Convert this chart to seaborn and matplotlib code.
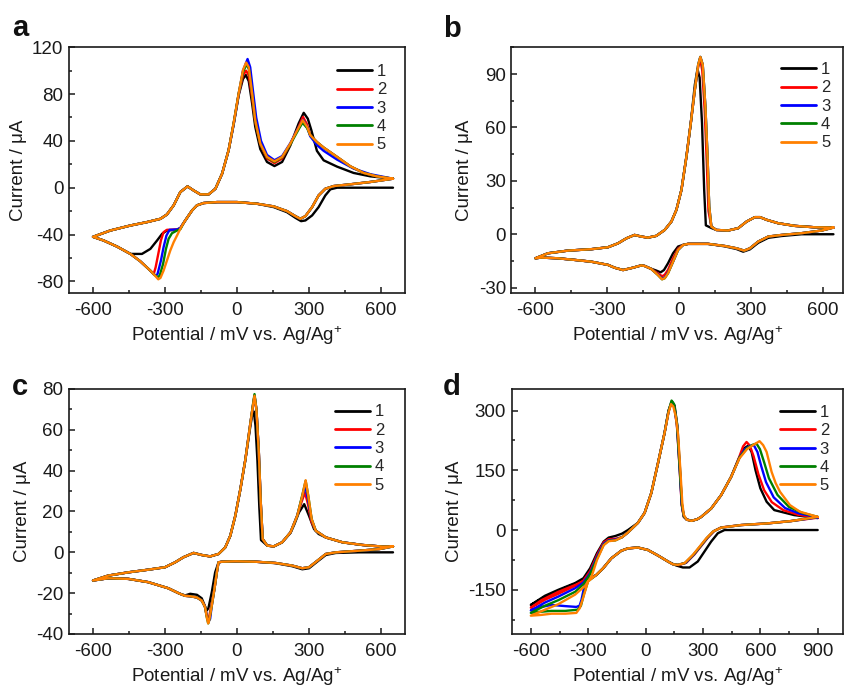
import matplotlib
matplotlib.use("Agg")
import matplotlib.pyplot as plt
import pandas as pd
import seaborn as sns
from matplotlib.ticker import MultipleLocator

# ---------------------------------------------------------------------------
# Cyclic voltammograms, five consecutive cycles per electrolyte.
# Each branch is stored for cycle 5; cycles 1-4 list only the stretches
# where their trace departs from it, as (potential mV, current uA) pairs.
# ---------------------------------------------------------------------------
CYCLES = ["1", "2", "3", "4", "5"]
CYCLE_COLORS = ["#000000", "#FF0000", "#0000FF", "#008000", "#FF8000"]

# ----- panel a --------------------------------------------------------------
A_AN_MV = [-600, -528, -444, -375, -319, -292, -264, -236, -206, -181,
           -153, -118, -90, -62, -35, -14, 7, 25, 38, 49,
           63, 76, 97, 125, 156, 188, 222, 257, 274, 292,
           305, 333, 361, 417, 472, 528, 583, 650]
A_AN_UA = [-42.0, -36.6, -32.3, -29.4, -26.6, -22.9, -15.1, -3.7, 1.1, -2.3,
           -5.7, -5.7, -0.9, 12.0, 32.0, 54.9, 80.6, 100.6, 107.0, 103.0,
           80.6, 57.7, 37.7, 26.3, 22.5, 26.3, 37.7, 51.4, 57.7, 52.0,
           45.0, 39.0, 34.3, 26.3, 18.3, 12.6, 9.7, 7.7]
A_CA_MV = [650, 556, 472, 403, 368, 340, 313, 285, 264, 243,
           208, 153, 83, 0, -83, -139, -167, -187, -208, -222,
           -236, -250, -264, -278, -292, -306, -319, -328, -340, -361,
           -403, -444, -500, -556, -600]
A_CA_UA = [7.7, 4.9, 2.9, 1.4, -0.9, -6.6, -16.6, -24.3, -26.6, -24.3,
           -20.0, -16.0, -13.7, -12.3, -12.3, -13.1, -15.1, -19.4, -25.7, -30.0,
           -35.0, -40.9, -46.6, -53.7, -62.3, -70.9, -77.1, -78.3, -75.5, -70.9,
           -62.9, -56.6, -50.3, -45.1, -42.0]
A_AN_SEG = {
    1: [[(-14, 54.0), (7, 79.0), (25, 93.0), (37, 96.3), (49, 91.0), (63, 72.0),
         (76, 52.0), (97, 33.0), (125, 22.0), (156, 18.5), (188, 22.0), (222, 36.0),
         (257, 55.0), (278, 64.0), (295, 59.0), (310, 49.0), (333, 31.5), (361, 23.4),
         (417, 18.0), (486, 12.6), (556, 9.7), (650, 7.7)]],
    2: [[(-14, 55.0), (7, 80.0), (25, 96.0), (38, 100.0), (49, 96.0), (63, 77.0),
         (76, 56.0), (97, 37.0), (125, 25.0), (156, 21.0), (188, 25.0), (222, 37.0),
         (257, 52.0), (275, 60.5), (292, 54.0)]],
    3: [[(-14, 54.0), (7, 80.0), (25, 100.0), (44, 110.0), (55, 103.0), (67, 82.0),
         (80, 60.0), (100, 40.0), (125, 28.0), (156, 23.5), (188, 27.0), (222, 38.0),
         (257, 51.5), (275, 58.0), (292, 52.0), (305, 44.0), (333, 36.5), (361, 31.5),
         (417, 24.0), (486, 16.3), (556, 11.5), (650, 7.7)]],
    4: [[(-14, 55.0), (7, 80.6), (25, 99.0), (40, 105.5), (50, 101.0), (63, 80.0),
         (76, 57.0), (97, 37.5), (125, 26.0), (156, 22.0), (188, 26.0), (222, 37.0),
         (257, 50.0), (273, 55.5), (292, 51.0)]],
}
A_CA_SEG = {
    1: [[(650, 0.0), (486, 0.0), (417, 0.0), (389, -1.4), (368, -6.6), (340, -16.6),
         (313, -23.7), (285, -28.0), (267, -28.6), (243, -25.7), (208, -20.9), (153, -16.6)],
        [(-222, -30.0), (-236, -34.5), (-250, -36.0), (-292, -36.6), (-312, -39.4),
         (-333, -45.1), (-361, -52.3), (-396, -56.6), (-444, -56.6)]],
    2: [[(-222, -30.0), (-236, -34.5), (-250, -35.7), (-292, -36.0), (-306, -38.0),
         (-317, -45.0), (-328, -56.6), (-339, -68.0), (-347, -73.7)]],
    3: [[(-222, -30.0), (-236, -34.5), (-250, -35.7), (-281, -36.0), (-294, -40.9),
         (-306, -50.9), (-317, -62.3), (-331, -73.7), (-337, -75.1), (-347, -73.9)]],
    4: [[(-222, -30.0), (-236, -35.5), (-250, -36.6), (-271, -38.9), (-285, -43.7),
         (-296, -52.3), (-308, -65.1), (-322, -75.1), (-331, -76.6), (-347, -74.0)]],
}

# ----- panel b --------------------------------------------------------------
B_AN_MV = [-600, -548, -465, -367, -297, -255, -220, -186, -158, -130,
           -95, -60, -32, -11, 10, 31, 49, 66, 80, 89,
           99, 110, 119, 126, 135, 156, 205, 247, 282, 317,
           338, 366, 414, 484, 568, 645]
B_AN_UA = [-13.5, -10.7, -9.2, -8.4, -7.3, -5.1, -2.3, -0.4, -1.3, -1.9,
           -0.9, 2.4, 7.1, 13.7, 24.9, 43.7, 62.4, 81.2, 95.2, 99.6,
           95.2, 71.8, 43.7, 15.6, 4.3, 2.4, 2.1, 3.4, 7.1, 9.6,
           9.6, 8.1, 6.2, 4.7, 3.9, 3.75]
B_CA_MV = [645, 596, 512, 428, 373, 331, 296, 272, 240, 191,
           121, 38, 17, -4, -25, -46, -60, -71, -88, -116,
           -144, -158, -193, -234, -269, -297, -367, -437, -507, -576,
           -600]
B_CA_UA = [3.75, 2.1, 0.6, -0.4, -1.3, -4.1, -7.9, -9.2, -7.9, -6.6,
           -5.4, -5.4, -6.0, -8.8, -15.4, -21.9, -24.7, -25.3, -22.9, -19.5,
           -17.8, -17.5, -18.8, -20.1, -18.8, -17.2, -15.4, -14.4, -13.5, -13.1,
           -13.5]
B_AN_SEG = {
    1: [[(49, 62.4), (66, 84.0), (77, 92.8), (86, 88.0), (96, 62.4), (105, 24.9),
         (112, 5.0), (135, 3.5)]],
    2: [[(80, 94.0), (88, 98.5), (97, 92.0), (107, 70.0), (116, 40.0), (123, 13.0),
         (135, 4.3)]],
}
B_CA_SEG = {
    1: [[(645, 0.0), (512, 0.0), (428, -1.0), (373, -2.0), (331, -4.8), (296, -8.5),
         (268, -9.8), (240, -8.3), (191, -6.8)],
        [(17, -6.0), (-4, -6.9), (-25, -10.7), (-46, -16.3), (-63, -20.1), (-77, -21.4),
         (-95, -20.4), (-116, -19.4)]],
    2: [[(-4, -8.0), (-25, -13.5), (-46, -20.0), (-60, -22.8), (-71, -23.6), (-88, -22.0),
         (-116, -19.5)]],
    3: [[(-46, -21.5), (-60, -24.3), (-71, -24.9), (-88, -22.7)]],
}

# ----- panel c --------------------------------------------------------------
C_AN_MV = [-600, -537, -453, -370, -300, -258, -223, -181, -147, -112,
           -77, -49, -28, -7, 14, 35, 56, 66, 73, 81,
           91, 99, 107, 126, 153, 188, 223, 251, 272, 286,
           297, 311, 328, 370, 440, 523, 607, 650]
C_AN_UA = [-13.8, -11.4, -9.8, -8.5, -7.3, -4.9, -2.4, -0.3, -1.3, -2.0,
           -0.8, 2.4, 8.1, 17.9, 30.9, 45.5, 63.4, 71.5, 76.7, 69.9,
           48.8, 24.4, 6.5, 3.3, 2.9, 4.9, 9.8, 17.9, 27.6, 35.3,
           27.6, 16.3, 10.6, 7.3, 4.9, 3.6, 2.8, 2.9]
C_CA_MV = [650, 593, 509, 412, 370, 335, 300, 272, 230, 160,
           77, -7, -63, -77, -84, -94, -105, -116, -120, -126,
           -133, -147, -167, -195, -216, -240, -286, -370, -453, -537,
           -600]
C_CA_UA = [2.9, 1.6, 0.8, 0.0, -0.8, -4.1, -7.3, -7.8, -6.5, -5.2,
           -4.6, -4.4, -4.6, -4.9, -9.8, -17.9, -26.0, -33.3, -34.8, -31.7,
           -26.8, -23.6, -22.1, -21.5, -21.3, -20.2, -17.6, -14.6, -13.0, -12.7,
           -13.8]
C_AN_SEG = {
    1: [[(56, 62.0), (63, 67.0), (70, 69.0), (77, 62.0), (85, 45.0), (93, 22.0),
         (100, 6.0), (126, 3.3)],
        [(223, 9.5), (240, 14.0), (258, 19.5), (280, 23.6), (300, 17.9), (321, 11.4),
         (340, 9.0)]],
    2: [[(251, 18.0), (270, 25.0), (283, 29.3), (295, 24.0), (310, 15.0), (328, 10.6)]],
    3: [[(251, 18.0), (270, 26.5), (284, 32.5), (296, 26.0), (311, 16.0), (328, 10.6)]],
    4: [[(66, 72.0), (73, 77.5), (81, 70.0)],
        [(272, 28.0), (286, 35.0), (297, 27.6)]],
}
C_CA_SEG = {
    1: [[(650, 0.0), (509, 0.0), (412, -0.3), (370, -1.3), (335, -4.5), (300, -7.8),
         (272, -8.3), (230, -6.8), (160, -5.3)],
        [(-63, -4.6), (-77, -4.9), (-91, -9.8), (-105, -19.5), (-119, -27.3),
         (-126, -28.5), (-133, -26.5), (-147, -22.5), (-167, -20.8), (-195, -20.3),
         (-216, -21.1)]],
    2: [[(-105, -25.0), (-116, -31.5), (-121, -33.0), (-127, -30.5), (-135, -26.0)]],
    3: [[(-112, -32.6), (-119, -34.0), (-126, -30.9)]],
}

# ----- panel d --------------------------------------------------------------
D_AN_MV = [-600, -526, -456, -368, -316, -281, -254, -219, -193, -158,
           -123, -92, -40, -5, 30, 65, 99, 120, 133, 145,
           158, 170, 182, 192, 200, 215, 240, 270, 291, 343,
           395, 447, 491, 530, 565, 596, 615, 633, 659, 680,
           703, 755, 807, 900]
D_AN_UA = [-215, -200, -186, -162, -140, -115, -75, -38, -28, -26,
           -18, -6, 18, 43, 93, 168, 243, 295, 316, 310,
           285, 240, 150, 68, 38, 26, 23, 27, 33, 54,
           87.5, 133, 180, 203, 214, 223, 213, 196, 146, 118,
           96, 62.5, 46, 33]
D_CA_MV = [900, 761, 639, 500, 395, 352, 317, 282, 247, 204,
           169, 143, 117, 65, 12, -40, -92, -127, -179, -222,
           -257, -283, -301, -327, -344, -362, -420, -492, -544, -600]
D_CA_UA = [33, 22.5, 16.7, 12.5, 6.0, -4.0, -21.0, -42.0, -62.5, -83.0,
           -87.5, -86.0, -79.0, -64.0, -50.0, -44.0, -46.0, -52.0, -71.0, -96.0,
           -112.5, -122.0, -129.0, -171.0, -196.0, -208.0, -210.0, -210.0, -213.0, -215.0]
D_AN_SEG = {
    1: [[(-600, -188), (-526, -165), (-456, -150), (-368, -133), (-325, -121), (-290, -96),
         (-254, -58), (-219, -29), (-193, -19), (-158, -15), (-123, -9), (-92, 0)],
        [(120, 300), (138, 323), (152, 312), (166, 262), (180, 154), (190, 62.5),
         (200, 33), (215, 27)],
        [(491, 182), (515, 205), (538, 212), (555, 195), (575, 150), (600, 105),
         (633, 71), (673, 50), (777, 37.5), (900, 30)]],
    2: [[(-600, -195), (-526, -175), (-456, -160), (-368, -140), (-325, -127), (-290, -103),
         (-254, -63), (-219, -31), (-193, -23), (-158, -22)],
        [(120, 298), (136, 320), (150, 311), (164, 262), (178, 154), (189, 62), (200, 33)],
        [(491, 185), (510, 210), (528, 221), (545, 212), (565, 185), (590, 140),
         (620, 100), (660, 70), (720, 50), (800, 38), (900, 31)]],
    3: [[(-600, -202), (-526, -182), (-456, -167), (-368, -146), (-325, -132), (-290, -108),
         (-254, -68), (-219, -34), (-193, -26), (-158, -24)],
        [(120, 297), (136, 322), (149, 313), (164, 265), (178, 158), (189, 65), (200, 35)],
        [(491, 182), (520, 203), (545, 211), (566, 213), (585, 196), (605, 160),
         (630, 120), (670, 82), (730, 55), (800, 42), (900, 32)]],
    4: [[(-600, -208), (-526, -190), (-456, -176), (-368, -155), (-325, -136), (-290, -111),
         (-254, -72), (-219, -37), (-193, -27)],
        [(120, 298), (136, 325), (149, 316), (164, 268), (178, 160), (190, 65), (200, 35)],
        [(491, 182), (530, 205), (560, 214), (580, 217), (598, 203), (620, 170),
         (645, 130), (690, 88), (750, 58), (820, 43), (900, 33)]],
}
D_CA_SEG = {
    1: [[(900, 0), (500, 0), (413, 0), (378, -8), (343, -29), (308, -54), (273, -79),
         (230, -94), (195, -94), (160, -89), (117, -79)],
        [(-257, -112.5), (-283, -120), (-320, -127), (-368, -135), (-420, -145),
         (-456, -153), (-526, -168), (-600, -188)]],
    2: [[(900, 31), (761, 22.5), (639, 16.7), (500, 12.5), (395, 6.5), (360, -2),
         (326, -19), (291, -40), (256, -61), (213, -82), (175, -88), (143, -86)],
        [(-283, -121), (-316, -127), (-368, -138), (-456, -155), (-544, -176), (-600, -195)]],
    3: [[(900, 32), (761, 22.5), (639, 16.7), (500, 12.5), (395, 6), (356, -3),
         (322, -20), (287, -41), (252, -62), (208, -83)],
        [(-283, -121), (-300, -127), (-320, -140), (-335, -175), (-345, -190), (-362, -193),
         (-420, -191), (-492, -188), (-544, -193), (-600, -202)]],
    4: [[(900, 33), (761, 22.5), (639, 16.7), (500, 12.5), (395, 6), (354, -3.5),
         (320, -20.5), (285, -41.5), (250, -62), (206, -83)],
        [(-283, -122), (-301, -129), (-322, -160), (-338, -190), (-355, -200), (-420, -203),
         (-492, -203), (-544, -205), (-600, -208)]],
}

X_LABEL = "Potential / mV vs. Ag/Ag$^{+}$"
Y_LABEL = "Current / \u03bcA"


def branch(mv, ua, segments, descending):
    """Cycle-5 branch with the given stretches swapped in, ordered by sweep direction."""
    pts = list(zip(mv, ua))
    for seg in segments:
        lo = min(e for e, _ in seg)
        hi = max(e for e, _ in seg)
        pts = [p for p in pts if not (lo <= p[0] <= hi)] + list(seg)
    return sorted(pts, key=lambda p: p[0], reverse=descending)


def sweep_frame(an_mv, an_ua, ca_mv, ca_ua, an_seg, ca_seg):
    rows = []
    for k, name in enumerate(CYCLES, start=1):
        path = (branch(ca_mv, ca_ua, ca_seg.get(k, []), True)
                + branch(an_mv, an_ua, an_seg.get(k, []), False))
        for step, (e, i) in enumerate(path):
            rows.append({"E": e, "I": i, "cycle": name, "step": step})
    return pd.DataFrame(rows)


sns.set_theme(style="ticks")
plt.rcParams["font.family"] = ["Liberation Sans", "DejaVu Sans"]
plt.rcParams["mathtext.fontset"] = "custom"
plt.rcParams["mathtext.rm"] = "Liberation Sans"
plt.rcParams["mathtext.it"] = "Liberation Sans:italic"
plt.rcParams["mathtext.bf"] = "Liberation Sans:bold"
plt.rcParams["axes.unicode_minus"] = False
plt.rcParams["lines.solid_joinstyle"] = "round"
plt.rcParams["lines.solid_capstyle"] = "round"

W, H = 845, 688
fig = plt.figure(figsize=(W / 100, H / 100), dpi=100)
fig.patch.set_facecolor("white")


def px_axes(left, top, right, bottom):
    return fig.add_axes([left / W, 1 - bottom / H, (right - left) / W, (bottom - top) / H])


panels = [
    dict(tag="a", box=(69, 47.3, 405, 293), letter=(12, 36),
         frame=sweep_frame(A_AN_MV, A_AN_UA, A_CA_MV, A_CA_UA, A_AN_SEG, A_CA_SEG),
         xlim=(-700, 700), ylim=(-90, 120), xmaj=300, xmin=150, ymaj=40, ymin=20,
         leg=(0.797, 0.932)),
    dict(tag="b", box=(511.5, 47.3, 843, 293), letter=(443, 37),
         frame=sweep_frame(B_AN_MV, B_AN_UA, B_CA_MV, B_CA_UA, B_AN_SEG, B_CA_SEG),
         xlim=(-700, 685), ylim=(-33, 105), xmaj=300, xmin=150, ymaj=30, ymin=15,
         leg=(0.813, 0.940)),
    dict(tag="c", box=(69, 389, 405, 634), letter=(12, 395),
         frame=sweep_frame(C_AN_MV, C_AN_UA, C_CA_MV, C_CA_UA, C_AN_SEG, C_CA_SEG),
         xlim=(-700, 700), ylim=(-40, 80), xmaj=300, xmin=150, ymaj=20, ymin=10,
         leg=(0.791, 0.937)),
    dict(tag="d", box=(511.7, 389, 843.5, 634), letter=(443, 395),
         frame=sweep_frame(D_AN_MV, D_AN_UA, D_CA_MV, D_CA_UA, D_AN_SEG, D_CA_SEG),
         xlim=(-700, 1035), ylim=(-261, 354), xmaj=300, xmin=150, ymaj=150, ymin=75,
         leg=(0.808, 0.935)),
]

for p in panels:
    ax = px_axes(*p["box"])
    sns.lineplot(data=p["frame"], x="E", y="I", hue="cycle", hue_order=CYCLES,
                 palette=CYCLE_COLORS, sort=False, estimator=None,
                 linewidth=1.7, ax=ax)
    ax.set_xlim(*p["xlim"])
    ax.set_ylim(*p["ylim"])
    ax.xaxis.set_major_locator(MultipleLocator(p["xmaj"]))
    ax.xaxis.set_minor_locator(MultipleLocator(p["xmin"]))
    ax.yaxis.set_major_locator(MultipleLocator(p["ymaj"]))
    ax.yaxis.set_minor_locator(MultipleLocator(p["ymin"]))
    ax.tick_params(which="both", direction="in", top=False, right=False,
                   colors="#1a1a1a", width=1.1, labelsize=13.5, labelcolor="#1a1a1a")
    ax.tick_params(which="major", length=4.5)
    ax.tick_params(which="minor", length=2.5)
    ax.tick_params(axis="x", which="major", pad=6.5)
    ax.tick_params(axis="y", which="major", pad=4)
    for s in ax.spines.values():
        s.set_visible(True)
        s.set_linewidth(1.2)
        s.set_color("#1a1a1a")
    ax.set_xlabel(X_LABEL, fontsize=13.5, labelpad=3.5, color="#1a1a1a")
    ax.set_ylabel(Y_LABEL, fontsize=13.5, labelpad=4, color="#1a1a1a")

    handles, labels = ax.get_legend_handles_labels()
    leg = ax.legend(handles, labels, loc="upper left", bbox_to_anchor=p["leg"],
                    frameon=False, fontsize=12, handlelength=2.1, handletextpad=0.3,
                    labelspacing=0.2, borderpad=0, borderaxespad=0)
    for line in leg.get_lines():
        line.set_linewidth(2.0)

    fig.text(p["letter"][0] / W, 1 - p["letter"][1] / H, p["tag"], fontsize=21,
             fontweight="bold", va="baseline", ha="left", color="#111111")

fig.savefig("out.png", dpi=100, facecolor="white")
